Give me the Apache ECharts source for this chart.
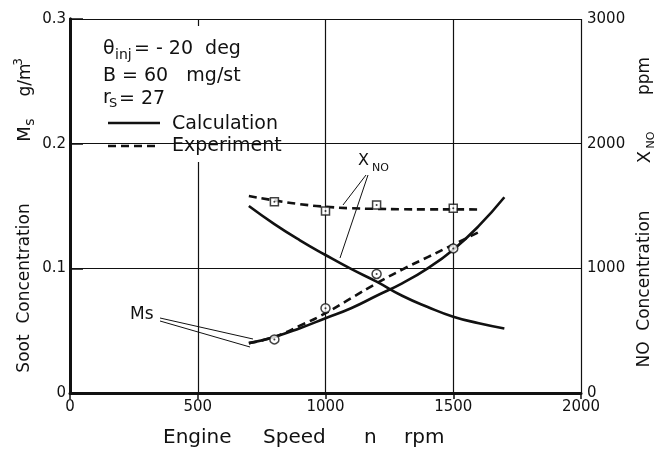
<!DOCTYPE html>
<html>
<head>
<meta charset="utf-8">
<script src="https://cdn.jsdelivr.net/npm/echarts@6/dist/echarts.min.js"></script>
<style>
  html, body { margin: 0; padding: 0; background: #fff; }
  #chart { width: 656px; height: 450px; }
</style>
</head>
<body>
<div id="chart"></div>
<script>
// engine speed (rpm) of the curves
var calcRpm = [700, 800, 900, 1000, 1100, 1200, 1300, 1400, 1500, 1600, 1700];
var exptRpm = [700, 800, 900, 1000, 1100, 1200, 1300, 1400, 1500, 1600];
var pointRpm = [800, 1000, 1200, 1500];

// NO concentration, ppm (right axis)
var noCalc = [1500, 1355, 1225, 1107, 995, 893, 780, 690, 612, 560, 518];
var noExpt = [1580, 1545, 1515, 1494, 1482, 1477, 1474, 1473, 1473, 1472];
var noPoints = [1535, 1460, 1508, 1481];

// soot concentration Ms, g/m3 (left axis)
var msCalc = [0.040, 0.045, 0.052, 0.060, 0.068, 0.078, 0.088, 0.100, 0.115, 0.134, 0.157];
var msExpt = [0.040, 0.045, 0.054, 0.064, 0.076, 0.088, 0.099, 0.109, 0.119, 0.129];
var msPoints = [0.043, 0.068, 0.0955, 0.116];

var xTicks = [0, 500, 1000, 1500, 2000];

function zip(xs, ys) {
  return xs.map(function (x, i) { return [x, ys[i]]; });
}

var ink = '#111';
var font = '"DejaVu Sans", sans-serif';

function txt(x, y, s, size, rot, align) {
  return {
    type: 'text', x: x, y: y, rotation: rot || 0, z: 10,
    style: {
      text: s, font: size + 'px ' + font, fill: ink,
      align: align || 'center', verticalAlign: 'middle',
      textAlign: align || 'center', textVerticalAlign: 'middle'
    }
  };
}
function seg(x1, y1, x2, y2, w, dash) {
  return {
    type: 'line', z: 10,
    shape: { x1: x1, y1: y1, x2: x2, y2: y2 },
    style: { stroke: ink, lineWidth: w, lineDash: dash || null }
  };
}

var chart = echarts.init(document.getElementById('chart'));
var R = Math.PI / 2;

chart.setOption({
  backgroundColor: '#fff',
  animation: false,
  grid: { left: 70, right: 75, top: 19, bottom: 57 },
  xAxis: [
    {
      type: 'value', min: 0, max: 2000, interval: 500, position: 'bottom',
      axisLine: { lineStyle: { color: ink, width: 3 } },
      axisTick: { show: false },
      axisLabel: { fontFamily: font, fontSize: 15, color: ink, margin: 7,
        formatter: function (v) { return xTicks.indexOf(v) >= 0 ? String(v) : ''; } },
      splitLine: { show: true, lineStyle: { color: ink, width: 1.2 } }
    },
    {
      type: 'value', min: 0, max: 2000, interval: 500, position: 'top',
      axisLine: { show: true, lineStyle: { color: ink, width: 2 } },
      axisTick: { show: true, inside: true, length: 6, lineStyle: { color: ink, width: 1.5 } },
      axisLabel: { show: false }, splitLine: { show: false }, z: 20
    }
  ],
  yAxis: [
    {
      type: 'value', min: 0, max: 0.3, interval: 0.1, position: 'left',
      axisLine: { show: true, lineStyle: { color: ink, width: 3 } },
      axisTick: { show: true, inside: true, length: 13, lineStyle: { color: ink, width: 1.5 } },
      axisLabel: { fontFamily: font, fontSize: 15, color: ink, margin: 4,
        formatter: function (v) { return v === 0 ? '0' : v.toFixed(1); } },
      splitLine: { show: true, lineStyle: { color: ink, width: 1.2 } }, z: 20
    },
    {
      type: 'value', min: 0, max: 3000, interval: 1000, position: 'right',
      axisLine: { show: true, lineStyle: { color: ink, width: 3 } },
      axisTick: { show: false },
      axisLabel: { fontFamily: font, fontSize: 15, color: ink, margin: 6,
        formatter: function (v) { return String(v); } },
      splitLine: { show: false }
    }
  ],
  series: [
    { name: 'NO calc', type: 'line', yAxisIndex: 1, smooth: true, showSymbol: false,
      lineStyle: { color: ink, width: 2.6 }, data: zip(calcRpm, noCalc) },
    { name: 'NO expt', type: 'line', yAxisIndex: 1, smooth: true, showSymbol: false,
      lineStyle: { color: ink, width: 2.6, type: [8, 5] }, data: zip(exptRpm, noExpt) },
    { name: 'Ms calc', type: 'line', yAxisIndex: 0, smooth: true, showSymbol: false,
      lineStyle: { color: ink, width: 2.6 }, data: zip(calcRpm, msCalc) },
    { name: 'Ms expt', type: 'line', yAxisIndex: 0, smooth: true, showSymbol: false,
      lineStyle: { color: ink, width: 2.6, type: [8, 5] }, data: zip(exptRpm, msExpt) },
    { name: 'NO points', type: 'scatter', yAxisIndex: 1, symbol: 'rect', symbolSize: 8, z: 5,
      itemStyle: { color: '#fff', borderColor: ink, borderWidth: 1.5 }, data: zip(pointRpm, noPoints) },
    { name: 'Ms points', type: 'scatter', yAxisIndex: 0, symbol: 'circle', symbolSize: 9, z: 5,
      itemStyle: { color: '#fff', borderColor: ink, borderWidth: 1.5 }, data: zip(pointRpm, msPoints) },
    { type: 'scatter', yAxisIndex: 1, symbolSize: 2, z: 6, itemStyle: { color: ink },
      data: zip(pointRpm, noPoints) },
    { type: 'scatter', yAxisIndex: 0, symbolSize: 2, z: 6, itemStyle: { color: ink },
      data: zip(pointRpm, msPoints) }
  ],
  graphic: [
    // white box under the text block
    { type: 'rect', z: 9, shape: { x: 84, y: 26, width: 234, height: 136 },
      style: { fill: '#fff' } },
    txt(103, 49, '\u03b8', 19, 0, 'left'),
    txt(115, 55, 'inj', 14, 0, 'left'),
    txt(134, 49, '= - 20  deg', 19, 0, 'left'),
    txt(103, 76, 'B = 60   mg/st', 19, 0, 'left'),
    txt(103, 98, 'r', 19, 0, 'left'),
    txt(109, 104, 'S', 13, 0, 'left'),
    txt(119, 99, '= 27', 19, 0, 'left'),
    seg(108, 123, 160, 123, 2.6),
    txt(172, 124, 'Calculation', 19, 0, 'left'),
    seg(108, 146, 160, 146, 2.6, [8, 5]),
    txt(172, 146, 'Experiment', 19, 0, 'left'),

    // x axis title
    txt(163, 438, 'Engine', 20, 0, 'left'),
    txt(263, 438, 'Speed', 20, 0, 'left'),
    txt(364, 438, 'n', 20, 0, 'left'),
    txt(404, 438, 'rpm', 20, 0, 'left'),

    // left axis title
    txt(25, 288, 'Soot  Concentration', 17, R),
    txt(25, 134, 'M', 18, R),
    txt(30, 122, 's', 14, R),
    txt(26, 80, 'g/m', 17, R),
    txt(19, 62, '3', 12, R),

    // right axis title
    txt(645, 289, 'NO  Concentration', 17, R),
    txt(645, 157, 'X', 18, R),
    txt(651, 140, 'NO', 11, R),
    txt(645, 76, 'ppm', 17, R),

    // X_NO label and leaders
    txt(358, 161, 'X', 16, 0, 'left'),
    txt(372, 168, 'NO', 11, 0, 'left'),
    seg(366, 175, 343, 205, 1),
    seg(368, 175, 340, 258, 1),

    // Ms label and leaders
    txt(130, 315, 'Ms', 17, 0, 'left'),
    seg(160, 318, 253, 339, 1),
    seg(160, 321, 250, 347, 1)
  ]
});
</script>
</body>
</html>
